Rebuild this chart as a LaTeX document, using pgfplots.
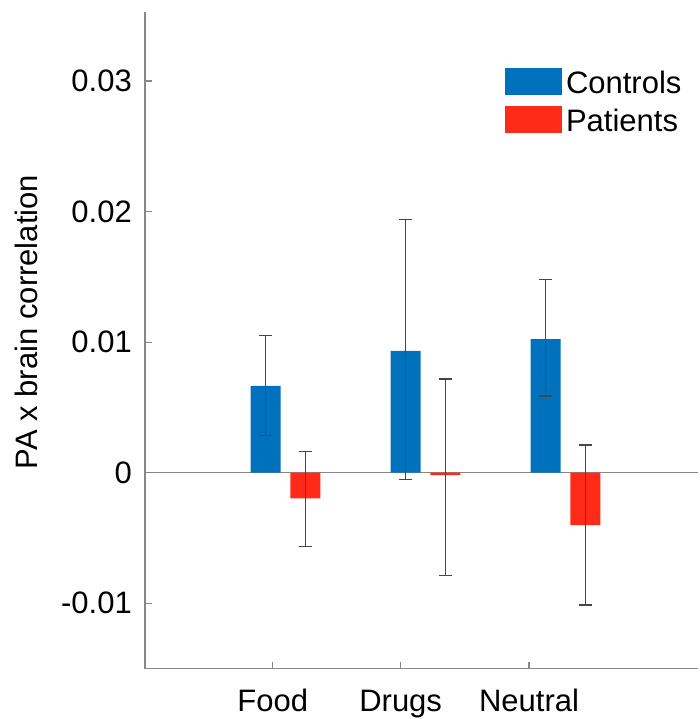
\documentclass[border=0pt]{standalone}
\usepackage{pgfplots}
\pgfplotsset{compat=1.18}
\usepackage{fontspec}
\setmainfont{Liberation Sans}
\definecolor{cblue}{RGB}{0,114,189}
\definecolor{cred}{RGB}{255,42,24}
\definecolor{axgray}{RGB}{135,135,135}
\definecolor{errgray}{RGB}{70,70,70}
\begin{document}
\begin{tikzpicture}
\useasboundingbox (0,0) rectangle (700pt,719pt);
\begin{axis}[
  at={(145pt,50.4pt)}, anchor=south west,
  scale only axis, width=553pt, height=656.9pt,
  xmin=0, xmax=3.95, ymin=-0.015, ymax=0.0353,
  axis lines=left, axis line style={-, axgray, line width=1.3pt},
  tick style={axgray, line width=1.2pt}, tick align=inside, major tick length=7pt,
  xtick={0.912,1.826,2.743}, xticklabels={Food,Drugs,Neutral},
  ytick={-0.01,0,0.01,0.02,0.03}, yticklabels={-0.01,0,0.01,0.02,0.03},
  scaled y ticks=false,
  /pgf/number format/assume math mode=true,
  tick label style={font=\fontsize{31}{36}\selectfont, inner sep=0pt},
  yticklabel style={anchor=east, xshift=-13pt},
  xticklabel style={anchor=base, yshift=-42.4pt},
  legend style={at={(0.651,0.9138)}, anchor=north west, draw=none, fill=none, inner sep=0pt, outer sep=0pt,
    row sep=11.3pt, column sep=4pt, font=\fontsize{31}{36}\selectfont,
    nodes={inner sep=0pt, anchor=base west}},
  legend cell align=left,
  legend image code/.code={\fill[#1] (0pt,-1.7pt) rectangle (57pt,25pt);},
  errbar/.style={errgray, line width=1.3pt, mark=-, mark size=6.5pt, mark options={solid, errgray, line width=1.3pt}, forget plot},
]
\addplot[axgray, line width=1.3pt, forget plot] coordinates {(0,0) (3.95,0)};
\addplot[ybar, bar width=30pt, bar shift=0pt, fill=cblue, draw=none]
  coordinates {(0.862,0.00664) (1.862,0.00932) (2.862,0.01022)};
\addlegendentry{Controls}
\addplot[ybar, bar width=30pt, bar shift=0pt, fill=cred, draw=none]
  coordinates {(1.145,-0.00196) (2.145,-0.00018) (3.145,-0.00401)};
\addlegendentry{Patients}
% error bars (low, high) of each bar
\addplot[errbar] coordinates {(0.862,0.00283) (0.862,0.01049)};
\addplot[errbar] coordinates {(1.862,-0.00051) (1.862,0.01941)};
\addplot[errbar] coordinates {(2.862,0.00587) (2.862,0.01481)};
\addplot[errbar] coordinates {(1.145,-0.00564) (1.145,0.00161)};
\addplot[errbar] coordinates {(2.145,-0.00789) (2.145,0.00718)};
\addplot[errbar] coordinates {(3.145,-0.01013) (3.145,0.00212)};
\end{axis}
\node[rotate=90, anchor=base, inner sep=0pt, font=\fontsize{31}{36}\selectfont] at (37pt,397pt) {PA x brain correlation};
\end{tikzpicture}
\end{document}
